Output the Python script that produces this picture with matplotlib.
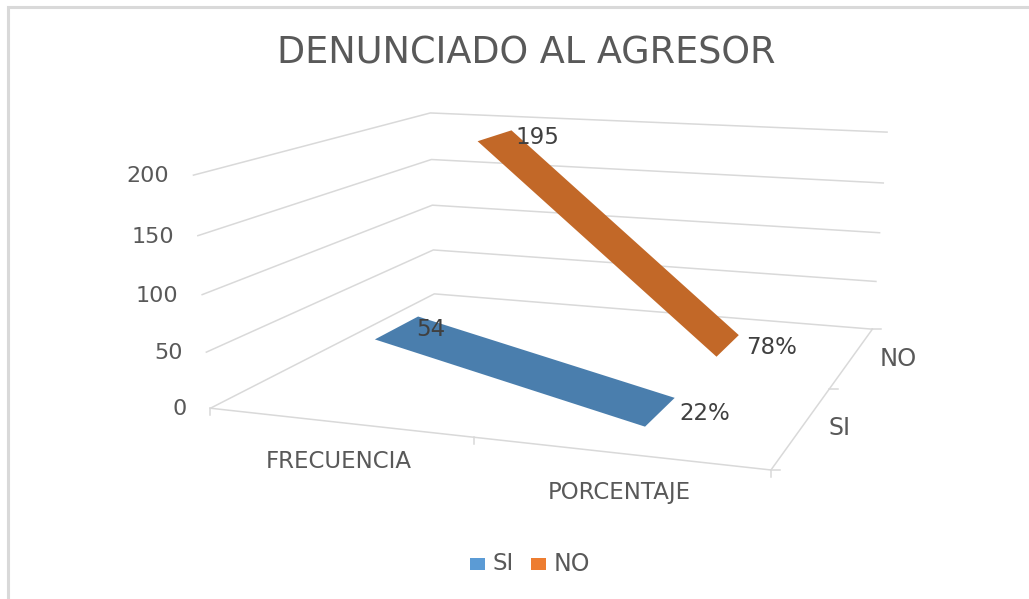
import numpy as np
import matplotlib.pyplot as plt
from matplotlib.patches import Polygon, Rectangle

# Reference text is stretched sideways, DejaVu has about the same width
plt.rcParams['font.family'] = ['DejaVu Sans']

# Data
categories = ['FRECUENCIA', 'PORCENTAJE']
series_names = ['SI', 'NO']
si_values = [54, 0.22]
no_values = [195, 0.78]
si_labels = ['54', '22%']
no_labels = ['195', '78%']
y_ticks = [0, 50, 100, 150, 200]

# Box corners (x, depth, height) in unit coords and where they land in the picture
box_unit = np.array([
    [0, 0, 0], [0, 1, 0], [1, 1, 0], [1, 0, 0],
    [0, 0, 1], [0, 1, 1], [1, 1, 1],
    [0, 0, .5], [0, 1, .5], [1, 1, .5],
])
box_pix = np.array([
    [210, 408], [435, 294], [872, 329], [771, 470],
    [194, 175], [430, 113], [887, 132],
    [202, 295], [432, 205], [880, 233],
])

# Fit a 3x4 camera matrix so the whole chart goes through one projection
rows = []
for (a, b, c), (u, v) in zip(box_unit, box_pix):
    rows.append([a, b, c, 1, 0, 0, 0, 0, -u * a, -u * b, -u * c, -u])
    rows.append([0, 0, 0, 0, a, b, c, 1, -v * a, -v * b, -v * c, -v])
cam = np.linalg.svd(np.array(rows))[2][-1].reshape(3, 4)


def proj(a, b, c=0.0):
    p = cam @ np.array([a, b, c, 1.0])
    return p[0] / p[2], p[1] / p[2]


fig = plt.figure(figsize=(10.29, 5.99), dpi=100)
ax = fig.add_axes([0, 0, 1, 1])
ax.set_xlim(0, 1029)
ax.set_ylim(599, 0)
ax.axis('off')

grid = '#d9d9d9'
text_color = '#595959'

# Outer border of the chart area
ax.plot([8, 8, 1029], [599, 7, 7], color=grid, lw=2.2, solid_joinstyle='miter')

# Gridlines on both walls
for t in y_ticks:
    z = t / 200
    pts = [proj(0, 0, z), proj(0, 1, z), proj(1, 1, z)]
    ax.plot(*zip(*pts), color=grid, lw=1.1)
    x0, y0 = proj(0, 0, z)
    ax.text(x0 - 24, y0 + 1, str(t), ha='right', va='center', fontsize=16, color=text_color)

# Floor edges and ticks
pts = [proj(0, 0), proj(1, 0), proj(1, 1)]
ax.plot(*zip(*pts), color=grid, lw=1.1)
for a in [0, 0.5, 1]:
    x0, y0 = proj(a, 0)
    ax.plot([x0, x0], [y0, y0 + 7], color=grid, lw=1.1)
for b in [0, 0.5, 1]:
    x0, y0 = proj(1, b)
    ax.plot([x0, x0 + 9], [y0, y0], color=grid, lw=1.1)

# Category and series labels
ax.text(339, 462, categories[0], ha='center', va='center', fontsize=16.5, color=text_color)
ax.text(619, 492, categories[1], ha='center', va='center', fontsize=16.5, color=text_color)
ax.text(898, 359, series_names[1], ha='center', va='center', fontsize=17.5, color=text_color)
ax.text(840, 428, series_names[0], ha='center', va='center', fontsize=17, color=text_color)

# Ribbons
half = 0.095
xpos = [0.25, 0.75]


def ribbon(vals, depth, color):
    z = [v / 200 for v in vals]
    pts = [proj(xpos[0], depth - half, z[0]), proj(xpos[0], depth + half, z[0]),
           proj(xpos[1], depth + half, z[1]), proj(xpos[1], depth - half, z[1])]
    ax.add_patch(Polygon(pts, closed=True, fc=color, ec='none', zorder=3))


ribbon(no_values, 0.75, '#c26828')
ribbon(si_values, 0.25, '#4a7ead')

# Data labels
ax.text(431, 329, si_labels[0], ha='center', va='center', fontsize=16.5, color='#404040', zorder=5)
ax.text(705, 413, si_labels[1], ha='center', va='center', fontsize=16.5, color='#404040', zorder=5)
ax.text(537, 138, no_labels[0], ha='center', va='center', fontsize=16.5, color='#404040', zorder=5)
ax.text(772, 348, no_labels[1], ha='center', va='center', fontsize=16.5, color='#404040', zorder=5)

# Title
ax.text(526, 53, 'DENUNCIADO AL AGRESOR', ha='center', va='center', fontsize=26.4, color=text_color)

# Legend
ax.add_patch(Rectangle((470, 558), 15, 12, fc='#5b9bd5', ec='none'))
ax.text(492, 564, series_names[0], ha='left', va='center', fontsize=16.5, color=text_color)
ax.add_patch(Rectangle((531, 558), 15, 12, fc='#ed7d31', ec='none'))
ax.text(554, 564, series_names[1], ha='left', va='center', fontsize=17, color=text_color)

fig.savefig('out.png', dpi=100)
